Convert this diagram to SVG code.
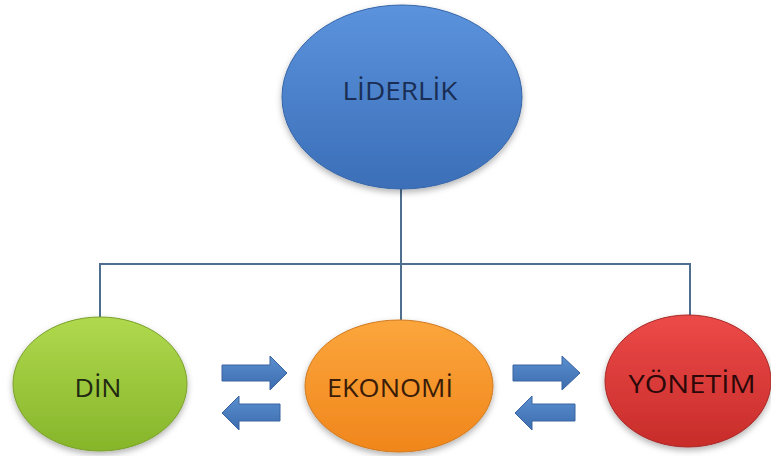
<svg xmlns="http://www.w3.org/2000/svg" width="771" height="456" viewBox="0 0 771 456">
<defs>
<linearGradient id="gBlue" x1="0" y1="0" x2="0" y2="1"><stop offset="0" stop-color="#5b93dc"/><stop offset="1" stop-color="#3b6fb8"/></linearGradient>
<linearGradient id="gGreen" x1="0" y1="0" x2="0" y2="1"><stop offset="0" stop-color="#b0d94e"/><stop offset="1" stop-color="#86b52a"/></linearGradient>
<linearGradient id="gOrange" x1="0" y1="0" x2="0" y2="1"><stop offset="0" stop-color="#fba63c"/><stop offset="1" stop-color="#f0861c"/></linearGradient>
<linearGradient id="gRed" x1="0" y1="0" x2="0" y2="1"><stop offset="0" stop-color="#ec4a48"/><stop offset="1" stop-color="#c82c2a"/></linearGradient>
<linearGradient id="gArrow" x1="0" y1="0" x2="0" y2="1"><stop offset="0" stop-color="#5a8fd0"/><stop offset="1" stop-color="#3c6cae"/></linearGradient>
<filter id="sh" x="-20%" y="-20%" width="140%" height="150%"><feDropShadow dx="0" dy="3" stdDeviation="3" flood-color="#000" flood-opacity="0.3"/></filter>
</defs>
<style>
.lbl{font-family:"Open Sans","Liberation Sans",sans-serif;font-size:26px;text-anchor:middle}
.conn{stroke:#4e6f8f;stroke-width:2;fill:none}
.arr{fill:url(#gArrow);stroke:#3a64a0;stroke-width:1}
.node{filter:url(#sh);stroke-width:1}
</style>
<rect width="771" height="456" fill="#ffffff"/>
<g id="connectors">
<path class="conn" d="M401 188 V320"/>
<path class="conn" d="M100 318 V264 H690 V316"/>
</g>
<g id="liderlik">
<ellipse class="node" cx="402" cy="97" rx="120" ry="92" fill="url(#gBlue)" stroke="#3565a8"/>
<text class="lbl" x="400" y="100" fill="#1a2e55" textLength="115" lengthAdjust="spacingAndGlyphs">LİDERLİK</text>
</g>
<g id="din">
<ellipse class="node" cx="100" cy="384" rx="87" ry="67" fill="url(#gGreen)" stroke="#7aa02a"/>
<text class="lbl" x="98" y="397" fill="#1f2a10" textLength="47" lengthAdjust="spacingAndGlyphs">DİN</text>
</g>
<g id="ekonomi">
<ellipse class="node" cx="399" cy="386" rx="94" ry="66" fill="url(#gOrange)" stroke="#d07a20"/>
<text class="lbl" x="390" y="397" fill="#3a1c08" textLength="126" lengthAdjust="spacingAndGlyphs">EKONOMİ</text>
</g>
<g id="yonetim">
<ellipse class="node" cx="688" cy="381" rx="83" ry="66" fill="url(#gRed)" stroke="#a82a28"/>
<text class="lbl" x="692" y="393" fill="#2a0808" textLength="127" lengthAdjust="spacingAndGlyphs">YÖNETİM</text>
</g>
<g id="arrows">
<path class="arr" d="M222 365 H270 V356 L287 373 L270 390 V381 H222 Z"/>
<path class="arr" d="M280 404 H239 V396 L222 413 L239 430 V421 H280 Z"/>
<path class="arr" d="M513 365 H562 V356 L580 373 L562 390 V381 H513 Z"/>
<path class="arr" d="M575 404 H532 V396 L515 413 L532 430 V421 H575 Z"/>
</g>
</svg>
